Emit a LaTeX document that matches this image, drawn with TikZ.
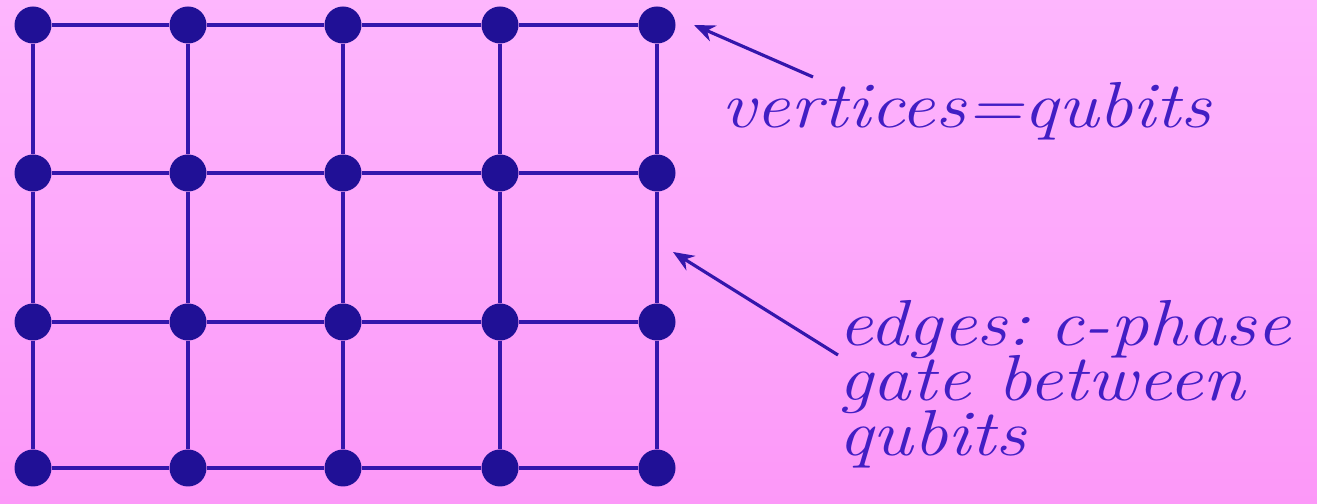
\documentclass[tikz,border=0pt]{standalone}
\usepackage{fontspec}
\setmainfont{Latin Modern Roman}[FakeStretch=1.18]
\usetikzlibrary{arrows.meta}
\definecolor{bgtop}{RGB}{253,182,253}
\definecolor{bgbot}{RGB}{252,152,248}
\definecolor{edgeblue}{RGB}{52,22,172}
\definecolor{dotblue}{RGB}{32,16,150}
\definecolor{textblue}{RGB}{66,30,196}
\newcommand{\notefont}{\fontsize{37}{31.5}\selectfont\setlength{\lineskiplimit}{-60pt}\frenchspacing\itshape}

\begin{document}
\begin{tikzpicture}[
  qubit/.style={circle, fill=dotblue, draw=none, minimum size=0.74cm, inner sep=0pt},
  edge/.style={draw=edgeblue, line width=2.3pt},
  note/.style={text=textblue, font=\notefont, align=left, inner sep=0pt, anchor=base west},
  arr/.style={-{Stealth[length=0.42cm,width=0.34cm]}, draw=edgeblue, line width=1.8pt}
]
  % --- Fond ---
  \shade[top color=bgtop, bottom color=bgbot] (0,0) rectangle (26.34,10.08);
  \useasboundingbox (0,0) rectangle (26.34,10.08);

  % --- Sommets : grille 4 lignes x 5 colonnes ---
  \foreach \c/\x in {1/0.66,2/3.76,3/6.86,4/10.0,5/13.14}
    \foreach \r/\y in {1/9.58,2/6.62,3/3.64,4/0.72}
      \node[qubit] (q\r\c) at (\x,\y) {};

  % --- Arêtes horizontales ---
  \foreach \r in {1,...,4}
    \foreach \c [count=\n from 2] in {1,...,4}
      \draw[edge] (q\r\c) -- (q\r\n);

  % --- Arêtes verticales ---
  \foreach \c in {1,...,5}
    \foreach \r [count=\n from 2] in {1,...,3}
      \draw[edge] (q\r\c) -- (q\n\c);

  % --- Légendes ---
  \node[note] (vert) at (14.42,7.52) {vertices=qubits};
  \node[note] (edg)  at (16.76,0.96) {edges:\hspace{-0.12em} c-phase\\gate between\\qubits};

  \coordinate (vtail) at (16.26,8.54);
  \coordinate (vtip)  at (13.88,9.58);
  \coordinate (etail) at (16.76,2.98);
  \coordinate (etip)  at (13.46,5.04);
  \draw[arr] (vtail) -- (vtip);
  \draw[arr] (etail) -- (etip);
\end{tikzpicture}
\end{document}
